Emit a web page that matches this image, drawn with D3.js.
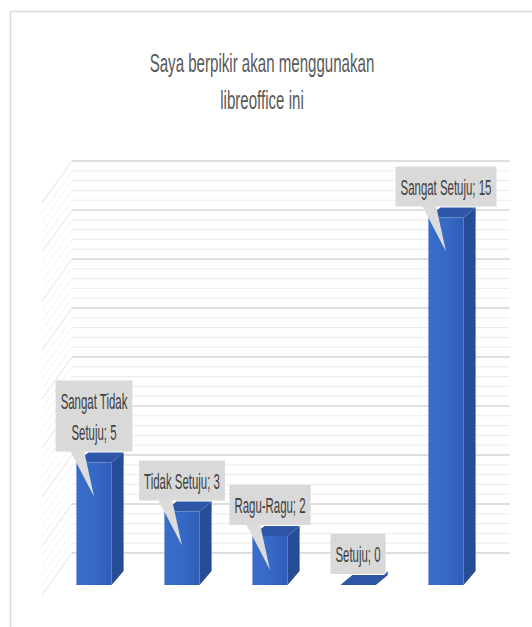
<!DOCTYPE html>
<html>
<head>
<meta charset="utf-8">
<script src="https://cdn.jsdelivr.net/npm/d3@7"></script>
<style>
  body { margin: 0; background: #fff; }
  svg { display: block; }
</style>
</head>
<body>
<svg id="chart"></svg>
<script>
// data
const categories = ["Sangat Tidak Setuju", "Tidak Setuju", "Ragu-Ragu", "Setuju", "Sangat Setuju"];
const values = [5, 3, 2, 0, 15];
const titleLines = ["Saya berpikir akan menggunakan", "libreoffice ini"];
const majorTicks = [0, 2, 4, 6, 8, 10, 12, 14, 16];

const WIDTH = 532, HEIGHT = 627;
const DX = 12, DY = 10;       // bar depth offset
const WALL_SHIFT = 22;        // back wall sits above the bars' back edge
const TITLE_SQUEEZE = 0.58;   // condensed text look
const LABEL_SQUEEZE = 0.52;

const svg = d3.select("#chart").attr("width", WIDTH).attr("height", HEIGHT);

const defs = svg.append("defs");
const grad = defs.append("linearGradient").attr("id", "front");
grad.append("stop").attr("offset", "0%").attr("stop-color", "#3a6dca");
grad.append("stop").attr("offset", "60%").attr("stop-color", "#3568c4");
grad.append("stop").attr("offset", "100%").attr("stop-color", "#2f5db5");

// outer frame
svg.append("rect")
  .attr("x", 10.5).attr("y", 11.5)
  .attr("width", 600).attr("height", 700)
  .attr("fill", "#fff").attr("stroke", "#d9d9d9").attr("stroke-width", 1.5);

// title
svg.append("g").selectAll("text")
  .data(titleLines)
  .join("text")
  .attr("transform", (d, i) => `translate(262,${72 + i * 37}) scale(${TITLE_SQUEEZE},1)`)
  .attr("text-anchor", "middle")
  .attr("font-family", "Liberation Sans, Arial, sans-serif")
  .attr("font-size", 26)
  .attr("fill", "#595959")
  .text(d => d);

const x = d3.scaleBand()
  .domain(categories)
  .range([50, 490])
  .paddingInner(0.6)
  .paddingOuter(0.3);

const y = d3.scaleLinear()
  .domain([0, 16])
  .range([575, 183]);

const wallY = v => y(v) - WALL_SHIFT;

// gridlines: back wall + left side wall
let gridVals = [];
majorTicks.forEach((t, i) => {
  if (i < majorTicks.length - 1) {
    const step = (majorTicks[i + 1] - t) / 5;
    for (let k = 0; k < 5; k++) gridVals.push({ v: t + k * step, major: k === 0 });
  } else {
    gridVals.push({ v: t, major: true });
  }
});

const grid = svg.append("g");
grid.selectAll("line.h")
  .data(gridVals)
  .join("line")
  .attr("class", "h")
  .attr("x1", 72).attr("x2", 510)
  .attr("y1", d => wallY(d.v)).attr("y2", d => wallY(d.v))
  .attr("stroke", d => d.major ? "#d4d4d4" : "#ebebeb")
  .attr("stroke-width", d => d.major ? 1.5 : 1);

grid.selectAll("line.d")
  .data(gridVals)
  .join("line")
  .attr("class", "d")
  .attr("x1", 72).attr("x2", 42)
  .attr("y1", d => wallY(d.v)).attr("y2", d => wallY(d.v) + 42)
  .attr("stroke", d => d.major ? "#e2e2e2" : "#f3f3f3")
  .attr("stroke-width", 1);

// bars
const data = categories.map((c, i) => ({ c, v: values[i] }));
const bw = x.bandwidth();
const bars = svg.append("g").selectAll("g")
  .data(data)
  .join("g");

// side
bars.append("path")
  .attr("d", d => {
    const x1 = x(d.c) + bw;
    return `M${x1},${y(d.v) + DY}L${x1 + DX},${y(d.v)}L${x1 + DX},${y(0) - 4}L${x1},${y(0) + DY}Z`;
  })
  .attr("fill", "#284d96");

// top
bars.append("path")
  .attr("d", d => {
    const x0 = x(d.c), x1 = x0 + bw;
    return `M${x0},${y(d.v) + DY}L${x1},${y(d.v) + DY}L${x1 + DX},${y(d.v)}L${x0 + DX},${y(d.v)}Z`;
  })
  .attr("fill", "#2d56a6");

// front
bars.append("rect")
  .attr("x", d => x(d.c))
  .attr("y", d => y(d.v) + DY)
  .attr("width", bw)
  .attr("height", d => y(0) - y(d.v))
  .attr("fill", "url(#front)");

// data label callouts
const fontFamily = "Liberation Sans, Arial, sans-serif";
const labels = svg.append("g").selectAll("g")
  .data(data)
  .join("g");

const measure = svg.append("text")
  .attr("font-family", fontFamily).attr("font-size", 22)
  .attr("visibility", "hidden");
function textW(s) { measure.text(s); return measure.node().getComputedTextLength() * LABEL_SQUEEZE; }

labels.each(function (d) {
  const g = d3.select(this);
  const words = (d.c + "; " + d.v).split(" ");
  const lines = [];
  let cur = "";
  words.forEach(w => {
    const test = cur ? cur + " " + w : w;
    if (cur && textW(test) > 104) { lines.push(cur); cur = w; } else cur = test;
  });
  lines.push(cur);

  const cx = x(d.c) + bw / 2;
  const boxW = d3.max(lines, textW) + 10;
  const boxH = 9 + lines.length * 31;
  const bottom = y(d.v) - 1;
  const top = bottom - boxH;
  const tipY = Math.min(y(d.v) + 44, y(0) - 4);

  g.append("path")
    .attr("d", `M${cx - 24},${bottom - 1}L${cx - 10},${bottom - 1}L${cx},${tipY}Z`)
    .attr("fill", "#dcdcdc");

  g.append("rect")
    .attr("x", cx - boxW / 2).attr("y", top)
    .attr("width", boxW).attr("height", boxH)
    .attr("fill", "#d9d9d9");

  g.selectAll("text")
    .data(lines)
    .join("text")
    .attr("transform", (s, i) => `translate(${cx},${top + 4.5 + 15.5 + i * 31 + 8}) scale(${LABEL_SQUEEZE},1)`)
    .attr("text-anchor", "middle")
    .attr("font-family", fontFamily)
    .attr("font-size", 22)
    .attr("fill", "#404040")
    .text(s => s);
});

measure.remove();
</script>
</body>
</html>
